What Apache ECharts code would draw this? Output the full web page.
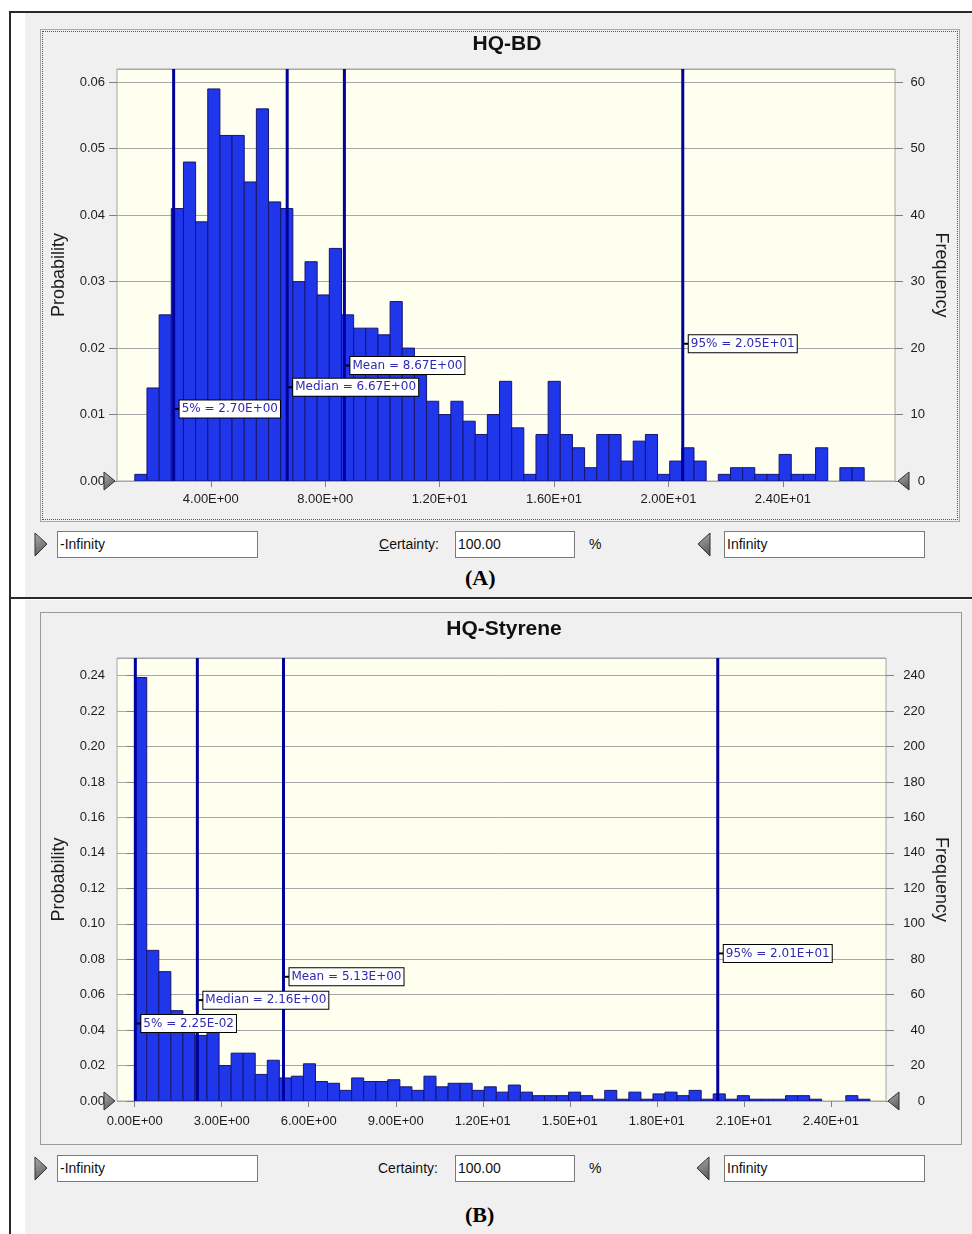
<!DOCTYPE html>
<html>
<head>
<meta charset="utf-8">
<script src="https://cdn.jsdelivr.net/npm/echarts@6/dist/echarts.min.js"></script>
<style>
  html,body{margin:0;padding:0;background:#fff;}
  body{width:972px;height:1234px;position:relative;overflow:hidden;font-family:"Liberation Sans",Arial,sans-serif;}
  .abs{position:absolute;}
  .panel{background:#f0f0f0;}
  .box{background:#fff;border:1px solid #7a7a7a;font-size:14px;line-height:24px;padding-left:2px;box-sizing:border-box;color:#111;}
  .lbl{font-size:14px;color:#111;line-height:26px;}
  .cap{font-family:"Liberation Serif","Times New Roman",serif;font-weight:bold;font-size:22px;color:#000;}
  #chart{position:absolute;left:0;top:0;width:972px;height:1234px;}
</style>
</head>
<body>
<!-- frames -->
<div class="abs panel" style="left:25px;top:13px;width:947px;height:584px;"></div>
<div class="abs panel" style="left:25px;top:600px;width:947px;height:634px;"></div>
<div class="abs" style="left:9px;top:11px;width:2px;height:1223px;background:#2a2a2a;"></div>
<div class="abs" style="left:9px;top:11px;width:963px;height:2px;background:#2a2a2a;"></div>
<div class="abs" style="left:9px;top:597px;width:963px;height:2px;background:#2a2a2a;"></div>
<div class="abs" style="left:40px;top:29px;width:920px;height:493px;border:1px solid #a8a8a8;box-sizing:border-box;"></div>
<div class="abs" style="left:42px;top:31px;width:916px;height:489px;border:1px dotted #555;box-sizing:border-box;"></div>
<div class="abs" style="left:40px;top:612px;width:922px;height:533px;border:1px solid #9a9a9a;box-sizing:border-box;"></div>

<!-- widgets A -->
<div class="abs box" style="left:57px;top:531px;width:201px;height:27px;">-Infinity</div>
<div class="abs lbl" style="left:379px;top:531px;"><u>C</u>ertainty:</div>
<div class="abs box" style="left:455px;top:531px;width:120px;height:27px;">100.00</div>
<div class="abs lbl" style="left:589px;top:531px;">%</div>
<div class="abs box" style="left:724px;top:531px;width:201px;height:27px;">Infinity</div>
<div class="abs cap" style="left:465px;top:565px;">(A)</div>

<!-- widgets B -->
<div class="abs box" style="left:57px;top:1155px;width:201px;height:27px;">-Infinity</div>
<div class="abs lbl" style="left:378px;top:1155px;">Certainty:</div>
<div class="abs box" style="left:455px;top:1155px;width:120px;height:27px;">100.00</div>
<div class="abs lbl" style="left:589px;top:1155px;">%</div>
<div class="abs box" style="left:724px;top:1155px;width:201px;height:27px;">Infinity</div>
<div class="abs cap" style="left:465px;top:1202px;">(B)</div>

<div id="chart"></div>
<script>
// ---------------- DATA ----------------
const titleA = 'HQ-BD';
const titleB = 'HQ-Styrene';
const trials = 1000;

// Histogram A: 60 bins
const binStartA = 1.343;
const binWidthA = 0.425;
const countsA = [1,14,25,41,48,39,59,52,52,45,56,42,41,30,33,28,35,25,23,23,
                 22,27,20,16,12,10,12,9,7,10,15,8,1,7,15,7,5,2,7,7,
                 3,6,7,1,3,5,3,0,1,2,2,1,1,4,1,1,5,0,2,2];
const statNamesA = ['5%','Median','Mean','95%'];
const statValuesA = [2.70, 6.67, 8.67, 20.5];
const xTicksA = [4,8,12,16,20,24];
const xRangeA = [0.72, 27.92];
const freqMaxA = 62;

// Histogram B: 61 bins
const binStartB = 0.0;
const binWidthB = 0.4155;
const countsB = [239,85,73,51,45,37,40,20,27,27,15,23,13,14,21,11,10,6,13,11,
                 11,12,8,6,14,8,10,10,6,8,5,9,5,3,3,3,5,3,1,6,
                 1,5,1,4,5,3,6,1,4,1,3,1,1,1,3,3,1,0,0,3,1];
const statNamesB = ['5%','Median','Mean','95%'];
const statValuesB = [0.0225, 2.16, 5.13, 20.1];
const xTicksB = [0,3,6,9,12,15,18,21,24];
const xRangeB = [-0.61, 25.9];
const freqMaxB = 250;

// ---------------- HELPERS ----------------
const FONT = '"Liberation Sans", Arial, sans-serif';
const LFONT = '"DejaVu Sans", Verdana, sans-serif';
function sci(v){
  const s = v.toExponential(2);
  const parts = s.split('e');
  const n = parseInt(parts[1],10);
  return parts[0] + 'E' + (n < 0 ? '-' : '+') + String(Math.abs(n)).padStart(2,'0');
}
function binData(start, width, counts){
  return counts.map((c,i)=>[start + i*width, start + (i+1)*width, c]);
}
const LABEL_BASE = 0.175, LABEL_STEP = 0.0527;

function renderBar(params, api){
  const c = api.value(2);
  if (!c) return null;
  const p0 = api.coord([api.value(0), c]);
  const p1 = api.coord([api.value(1), 0]);
  return {type:'rect', shape:{x:p0[0], y:p0[1], width:p1[0]-p0[0], height:p1[1]-p0[1]},
          style:{fill:'#1f36ea', stroke:'#16166e', lineWidth:1}};
}
function makeLineRenderer(ymax){
  return function(params, api){
    const x = api.value(0);
    const t = api.coord([x, ymax]);
    const b = api.coord([x, 0]);
    return {type:'line', shape:{x1:t[0], y1:t[1], x2:b[0], y2:b[1]},
            style:{stroke:'#00009c', lineWidth:3}};
  };
}
function makeLabelRenderer(ymax, names){
  return function(params, api){
    const x = api.value(0);
    const i = api.value(1);
    const p = api.coord([x, ymax*(LABEL_BASE + LABEL_STEP*i)]);
    return {type:'group', children:[
      {type:'rect', shape:{x:p[0]+1, y:p[1]-1, width:5, height:2}, style:{fill:'#000'}},
      {type:'text', x:p[0]+6, y:p[1],
        style:{text: names[i] + ' = ' + sci(x), fill:'#2f2ab0', font:'12px ' + LFONT,
               verticalAlign:'middle', align:'left',
               backgroundColor:'#ffffff', borderColor:'#000', borderWidth:1,
               padding:[3,2,2,2]}}
    ]};
  };
}
function tri(points){
  return {type:'polygon', shape:{points:points}, z:100,
          style:{fill:{type:'linear',x:0,y:0,x2:1,y2:1,colorStops:[{offset:0,color:'#b0b0b0'},{offset:1,color:'#505050'}]},
                 stroke:'#303030', lineWidth:1}};
}

const axisLabelStyle = {color:'#1c1c1c', fontSize:13, fontFamily:FONT};

function yAxes(grid, probMax, probInt, freqMax, freqInt, nameGapL, nameGapR, rightMargin){
  return [
    {type:'value', gridIndex:grid, min:0, max:probMax, interval:probInt, position:'left',
     name:'Probability', nameLocation:'middle', nameRotate:90, nameGap:nameGapL, nameMoveOverlap:false,
     nameTextStyle:{fontSize:18, color:'#1c1c1c', fontFamily:FONT},
     axisLine:{show:false},
     axisTick:{show:true, inside:false, length:8, lineStyle:{color:'#808080'}},
     axisLabel:Object.assign({margin:12, showMaxLabel:false, formatter:v=>v.toFixed(2)}, axisLabelStyle),
     splitLine:{show:true, lineStyle:{color:'#a8a8a8', width:1}}},
    {type:'value', gridIndex:grid, min:0, max:freqMax, interval:freqInt, position:'right',
     name:'Frequency', nameLocation:'middle', nameRotate:-90, nameGap:nameGapR, nameMoveOverlap:false,
     nameTextStyle:{fontSize:18, color:'#1c1c1c', fontFamily:FONT},
     axisLine:{show:false},
     axisTick:{show:true, inside:false, length:8, lineStyle:{color:'#808080'}},
     axisLabel:Object.assign({margin:rightMargin, align:'right', showMaxLabel:false, formatter:v=>String(Math.round(v))}, axisLabelStyle),
     splitLine:{show:false}}
  ];
}
function xAxis(grid, range, ticks, margin){
  return {type:'value', gridIndex:grid, min:range[0], max:range[1],
    axisLine:{show:false},
    splitLine:{show:false},
    axisTick:{show:true, length:6, customValues:ticks, lineStyle:{color:'#808080'}},
    axisLabel:Object.assign({margin:margin, customValues:ticks, formatter:v=>sci(v)}, axisLabelStyle)};
}

const chart = echarts.init(document.getElementById('chart'), null, {renderer:'canvas'});
const option = {
  animation:false,
  backgroundColor:'transparent',
  title:[
    {text:titleA, left:502, top:29, textAlign:'center',
     textStyle:{fontSize:21, fontWeight:'bold', color:'#111', fontFamily:FONT}},
    {text:titleB, left:499, top:614, textAlign:'center',
     textStyle:{fontSize:21, fontWeight:'bold', color:'#111', fontFamily:FONT}}
  ],
  grid:[
    {left:117, top:69, width:778, height:412, show:true, backgroundColor:'#fffff0', borderColor:'#a6a6a6', borderWidth:1},
    {left:117, top:658, width:769, height:443, show:true, backgroundColor:'#fffff0', borderColor:'#a6a6a6', borderWidth:1}
  ],
  xAxis:[ xAxis(0, xRangeA, xTicksA, 12), xAxis(1, xRangeB, xTicksB, 14) ],
  yAxis:[].concat(
    yAxes(0, freqMaxA/trials, 0.01, freqMaxA, 10, 49, 37, 30),
    yAxes(1, freqMaxB/trials, 0.02, freqMaxB, 20, 49, 46, 39)
  ),
  series:[
    {type:'custom', xAxisIndex:0, yAxisIndex:1, renderItem:renderBar, encode:{x:[0,1], y:2},
     data:binData(binStartA, binWidthA, countsA), clip:true, z:2},
    {type:'custom', xAxisIndex:0, yAxisIndex:1, renderItem:makeLineRenderer(freqMaxA),
     data:statValuesA.map((v,i)=>[v,i]), encode:{x:0}, clip:true, z:3},
    {type:'custom', xAxisIndex:0, yAxisIndex:1, renderItem:makeLabelRenderer(freqMaxA, statNamesA),
     data:statValuesA.map((v,i)=>[v,i]), encode:{x:0}, z:4},
    {type:'custom', xAxisIndex:1, yAxisIndex:3, renderItem:renderBar, encode:{x:[0,1], y:2},
     data:binData(binStartB, binWidthB, countsB), clip:true, z:2},
    {type:'custom', xAxisIndex:1, yAxisIndex:3, renderItem:makeLineRenderer(freqMaxB),
     data:statValuesB.map((v,i)=>[v,i]), encode:{x:0}, clip:true, z:3},
    {type:'custom', xAxisIndex:1, yAxisIndex:3, renderItem:makeLabelRenderer(freqMaxB, statNamesB),
     data:statValuesB.map((v,i)=>[v,i]), encode:{x:0}, z:4}
  ],
  graphic:[
    tri([[104,472],[115,481],[104,490]]),
    tri([[909,472],[898,481],[909,490]]),
    tri([[104,1092],[115,1101],[104,1110]]),
    tri([[899,1092],[888,1101],[899,1110]]),
    tri([[35,533],[47,544],[35,556]]),
    tri([[710,533],[698,544],[710,556]]),
    tri([[35,1157],[47,1168],[35,1180]]),
    tri([[709,1157],[697,1168],[709,1180]])
  ]
};
chart.setOption(option);
</script>
</body>
</html>
